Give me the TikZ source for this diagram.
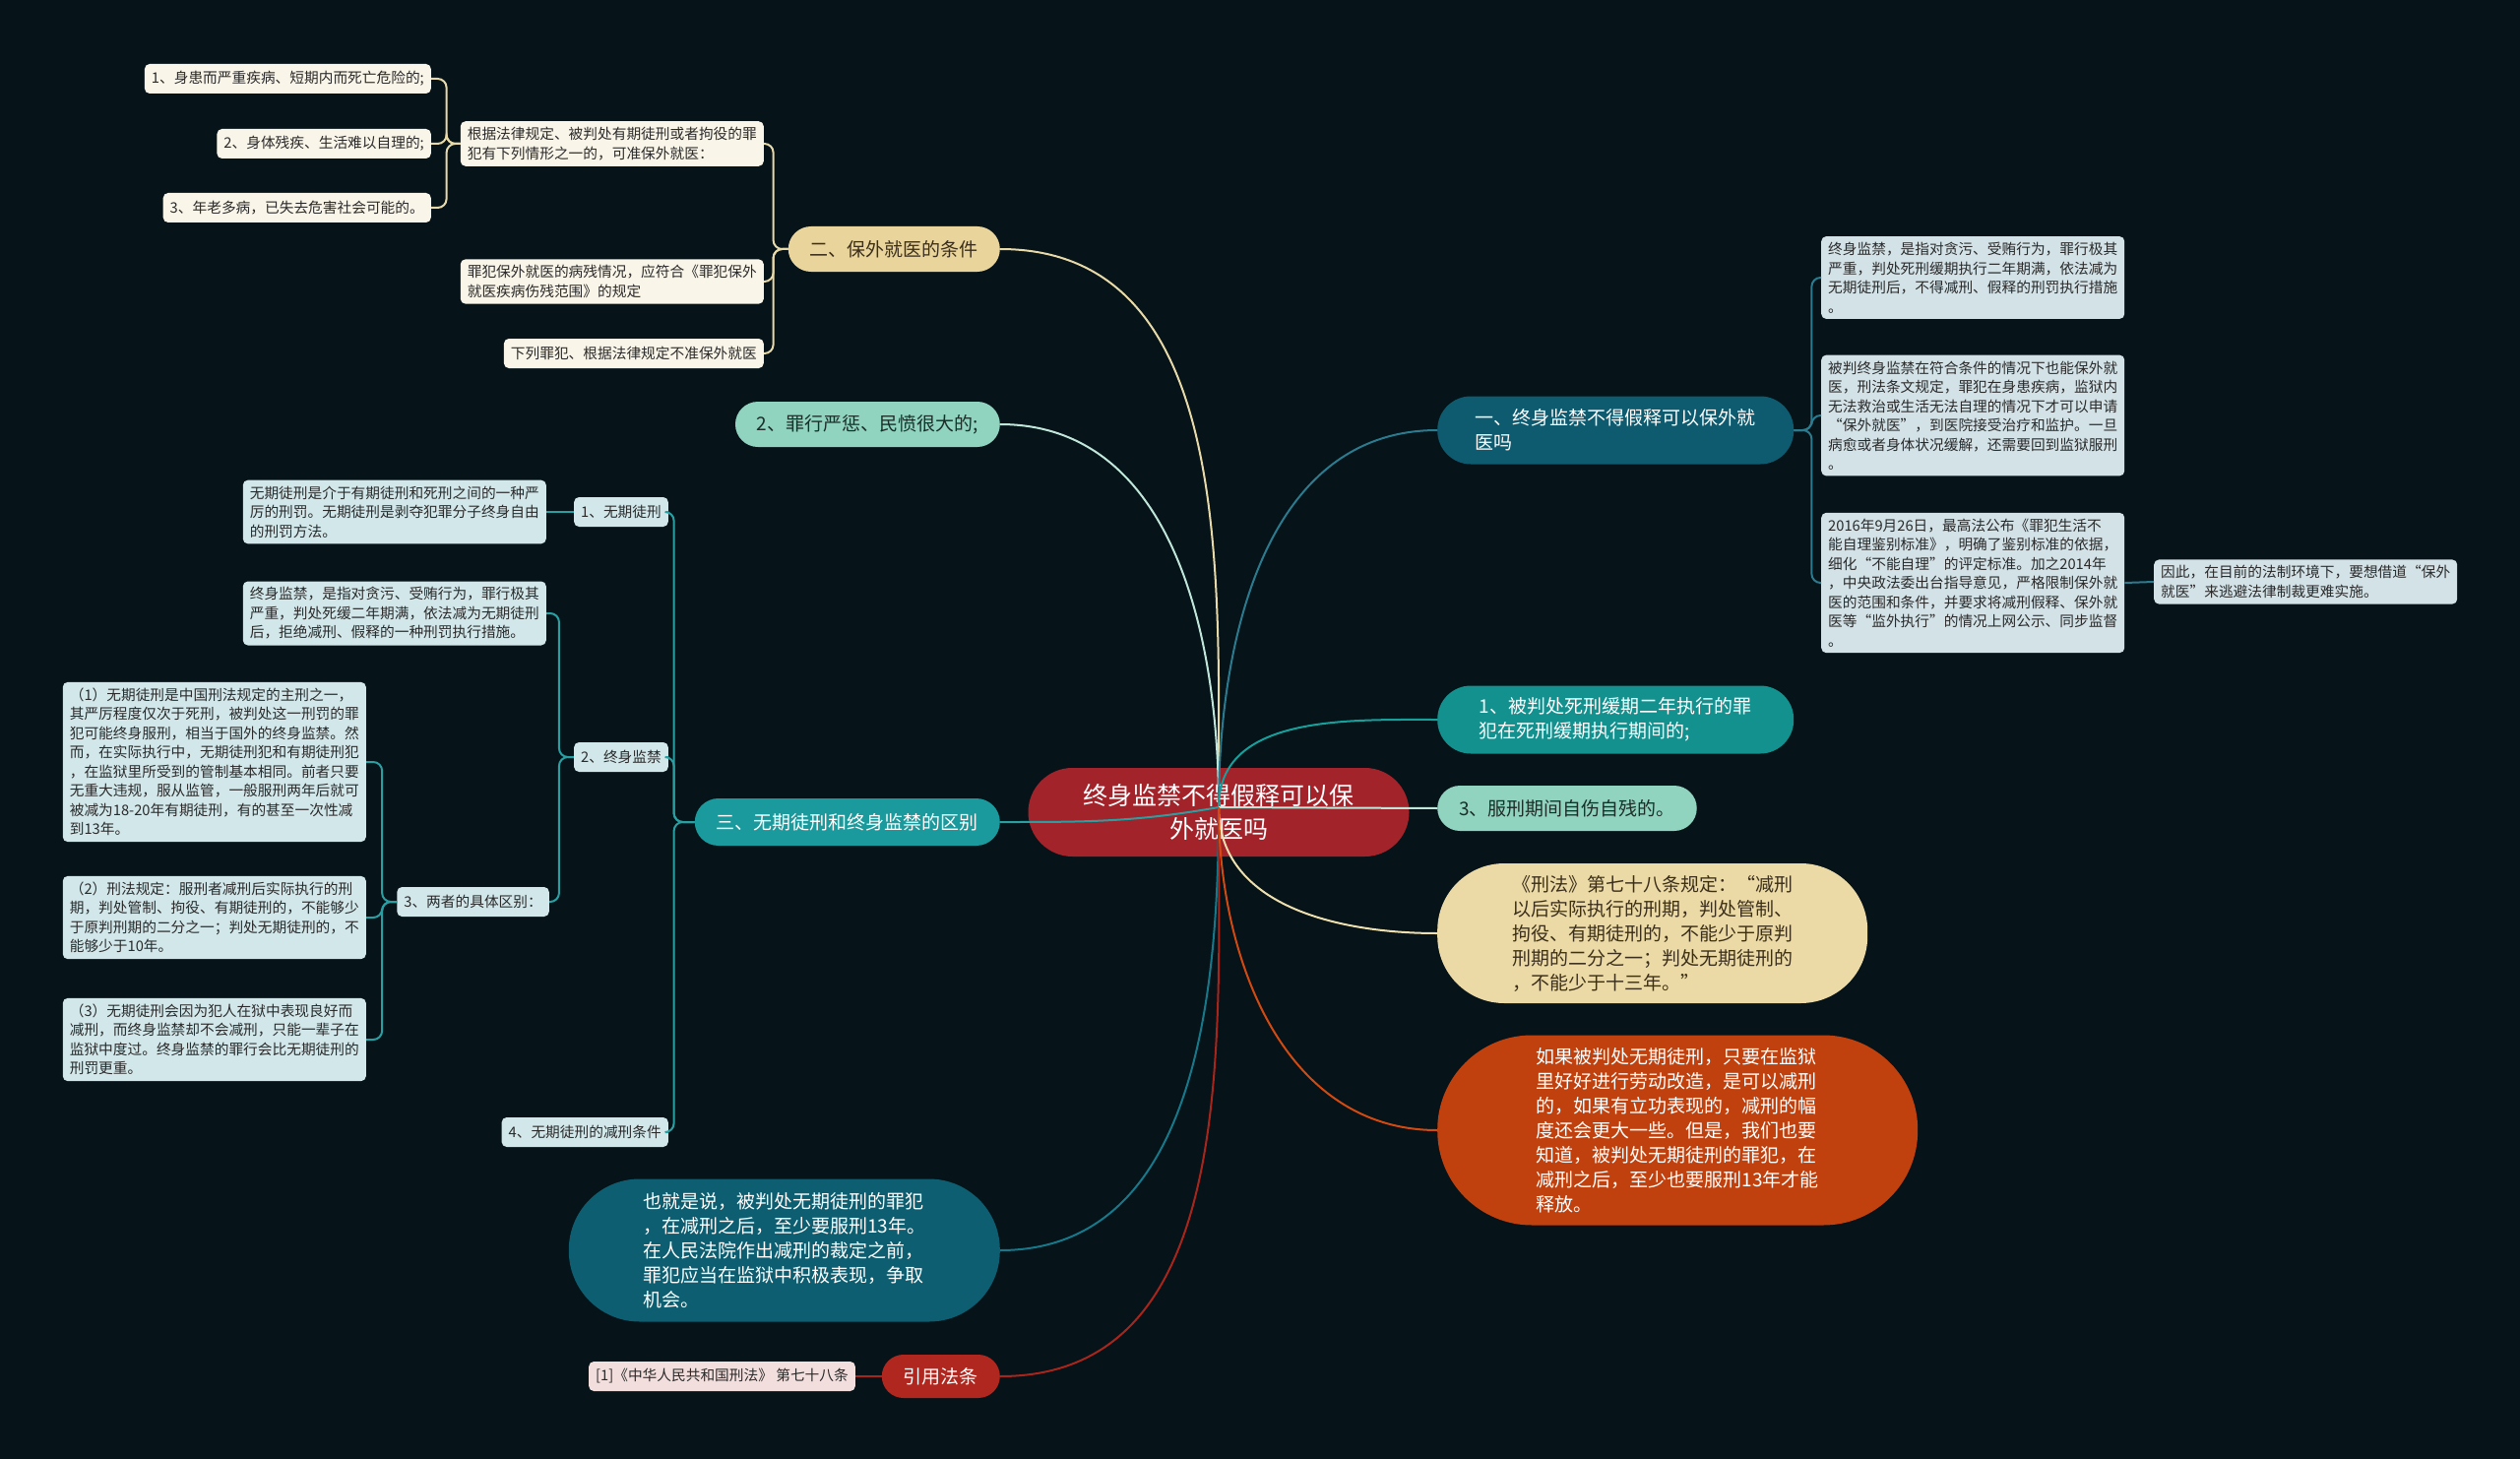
\documentclass[tikz,border=0pt]{standalone}
\usepackage{fontspec}
\setmainfont{Noto Sans CJK SC}
\usepackage{tikz}

\definecolor{bgcol}{HTML}{061319}
\definecolor{rootfill}{HTML}{A3232B}
\definecolor{tanfill}{HTML}{E9D49C}
\definecolor{tantext}{HTML}{3B2F1C}
\definecolor{creamfill}{HTML}{FAF5E9}
\definecolor{tanline}{HTML}{E8D9A8}
\definecolor{mintfill}{HTML}{90D3BF}
\definecolor{minttext}{HTML}{1C2E28}
\definecolor{mintline}{HTML}{BFE6D9}
\definecolor{tealfill}{HTML}{1A9A9C}
\definecolor{tealline}{HTML}{2A9FA2}
\definecolor{bluefill}{HTML}{D2E7EA}
\definecolor{deepfill}{HTML}{0D5E70}
\definecolor{deepline}{HTML}{17788A}
\definecolor{redfill}{HTML}{B0271F}
\definecolor{redline}{HTML}{A8251C}
\definecolor{pinkfill}{HTML}{F2DEDC}
\definecolor{navyfill}{HTML}{0E5A6E}
\definecolor{navyline}{HTML}{2B7A8E}
\definecolor{greyfill}{HTML}{D3E2E7}
\definecolor{greenfill}{HTML}{13918F}
\definecolor{greenline}{HTML}{16A09C}
\definecolor{beigefill}{HTML}{EBDAA5}
\definecolor{beigeline}{HTML}{EEDFAE}
\definecolor{orangefill}{HTML}{C0410E}
\definecolor{orangeline}{HTML}{D14A12}
\definecolor{leaftext}{HTML}{2A2A2A}

\begin{document}
\begin{tikzpicture}[x=1pt, y=1pt,
  leaf/.style={rectangle, rounded corners=5, align=left, inner xsep=7, inner ysep=6, minimum height=30, text=leaftext, font=\fontsize{14.7}{19.5}\selectfont},
  topic/.style={rectangle, align=left, inner xsep=22, inner ysep=6, font=\fontsize{19}{25}\selectfont},
  link/.style={line width=2, rounded corners=9},
]
\useasboundingbox (0,0) rectangle (2560,-1482);
\fill[bgcol] (0,0) rectangle (2560,-1482);

% root
\node[rectangle, fill=rootfill, text=white, rounded corners=45, minimum width=387, minimum height=90, align=center, font=\fontsize{25}{34}\selectfont] (root) at (1238,-825) {终身监禁不得假释可以保\\外就医吗};
\coordinate (hub) at (1238,-820);

% left: conditions
\node[topic, fill=tanfill, text=tantext, rounded corners=23, minimum height=46, anchor=east] (cond) at (1016,-253) {二、保外就医的条件};
\node[leaf, fill=creamfill, anchor=east] (law) at (776,-146) {根据法律规定、被判处有期徒刑或者拘役的罪\\犯有下列情形之一的，可准保外就医：};
\node[leaf, fill=creamfill, anchor=east] (ill) at (438,-80) {1、身患而严重疾病、短期内而死亡危险的;};
\node[leaf, fill=creamfill, anchor=east] (disab) at (438,-146) {2、身体残疾、生活难以自理的;};
\node[leaf, fill=creamfill, anchor=east] (old) at (438,-211) {3、年老多病，已失去危害社会可能的。};
\node[leaf, fill=creamfill, anchor=east] (range) at (776,-286) {罪犯保外就医的病残情况，应符合《罪犯保外\\就医疾病伤残范围》的规定};
\node[leaf, fill=creamfill, anchor=east] (deny) at (776,-359) {下列罪犯、根据法律规定不准保外就医};

\node[topic, fill=mintfill, text=minttext, rounded corners=23, minimum height=46, anchor=east] (crime) at (1016,-431) {2、罪行严惩、民愤很大的;};

% left: difference
\node[topic, fill=tealfill, text=white, rounded corners=24, minimum height=48, anchor=east] (diff) at (1016,-835) {三、无期徒刑和终身监禁的区别};
\node[leaf, fill=bluefill, anchor=east] (life) at (679,-520) {1、无期徒刑};
\node[leaf, fill=bluefill, anchor=east] (lifetxt) at (555,-520) {无期徒刑是介于有期徒刑和死刑之间的一种严\\厉的刑罚。无期徒刑是剥夺犯罪分子终身自由\\的刑罚方法。};
\node[leaf, fill=bluefill, anchor=east] (whole) at (679,-769) {2、终身监禁};
\node[leaf, fill=bluefill, anchor=east] (wholetxt) at (555,-623) {终身监禁，是指对贪污、受贿行为，罪行极其\\严重，判处死缓二年期满，依法减为无期徒刑\\后，拒绝减刑、假释的一种刑罚执行措施。};
\node[leaf, fill=bluefill, anchor=east] (both) at (558,-916) {3、两者的具体区别：};
\node[leaf, fill=bluefill, anchor=east] (pt1) at (372,-774) {（1）无期徒刑是中国刑法规定的主刑之一，\\其严厉程度仅次于死刑，被判处这一刑罚的罪\\犯可能终身服刑，相当于国外的终身监禁。然\\而，在实际执行中，无期徒刑犯和有期徒刑犯\\，在监狱里所受到的管制基本相同。前者只要\\无重大违规，服从监管，一般服刑两年后就可\\被减为18-20年有期徒刑，有的甚至一次性减\\到13年。};
\node[leaf, fill=bluefill, anchor=east] (pt2) at (372,-932) {（2）刑法规定：服刑者减刑后实际执行的刑\\期，判处管制、拘役、有期徒刑的，不能够少\\于原判刑期的二分之一；判处无期徒刑的，不\\能够少于10年。};
\node[leaf, fill=bluefill, anchor=east] (pt3) at (372,-1056) {（3）无期徒刑会因为犯人在狱中表现良好而\\减刑，而终身监禁却不会减刑，只能一辈子在\\监狱中度过。终身监禁的罪行会比无期徒刑的\\刑罚更重。};
\node[leaf, fill=bluefill, anchor=east] (cut) at (679,-1150) {4、无期徒刑的减刑条件};

\node[topic, fill=deepfill, text=white, rounded corners=72, minimum width=438, minimum height=145, anchor=east] (least) at (1016,-1270) {也就是说，被判处无期徒刑的罪犯\\，在减刑之后，至少要服刑13年。\\在人民法院作出减刑的裁定之前，\\罪犯应当在监狱中积极表现，争取\\机会。};

\node[topic, fill=redfill, text=white, rounded corners=22, minimum height=44, anchor=east] (cite) at (1016,-1398) {引用法条};
\node[leaf, fill=pinkfill, anchor=east] (ref) at (869,-1398) {[1]《中华人民共和国刑法》 第七十八条};

% right side
\node[topic, fill=navyfill, text=white, rounded corners=34, minimum width=362, minimum height=69, anchor=west] (parole) at (1460,-437) {一、终身监禁不得假释可以保外就\\医吗};
\node[leaf, fill=greyfill, anchor=west] (def) at (1850,-282) {终身监禁，是指对贪污、受贿行为，罪行极其\\严重，判处死刑缓期执行二年期满，依法减为\\无期徒刑后，不得减刑、假释的刑罚执行措施\\。};
\node[leaf, fill=greyfill, anchor=west] (can) at (1850,-422) {被判终身监禁在符合条件的情况下也能保外就\\医，刑法条文规定，罪犯在身患疾病，监狱内\\无法救治或生活无法自理的情况下才可以申请\\“保外就医”，到医院接受治疗和监护。一旦\\病愈或者身体状况缓解，还需要回到监狱服刑\\。};
\node[leaf, fill=greyfill, anchor=west] (std) at (1850,-592) {2016年9月26日，最高法公布《罪犯生活不\\能自理鉴别标准》，明确了鉴别标准的依据，\\细化“不能自理”的评定标准。加之2014年\\，中央政法委出台指导意见，严格限制保外就\\医的范围和条件，并要求将减刑假释、保外就\\医等“监外执行”的情况上网公示、同步监督\\。};
\node[leaf, fill=greyfill, anchor=west] (hard) at (2188,-591) {因此，在目前的法制环境下，要想借道“保外\\就医”来逃避法律制裁更难实施。};

\node[topic, fill=greenfill, text=white, rounded corners=34, minimum width=362, minimum height=69, anchor=west] (delay) at (1460,-731) {1、被判处死刑缓期二年执行的罪\\犯在死刑缓期执行期间的;};
\node[topic, fill=mintfill, text=minttext, rounded corners=23, minimum height=46, anchor=west] (self) at (1460,-821) {3、服刑期间自伤自残的。};
\node[topic, fill=beigefill, text=tantext, rounded corners=68, minimum width=437, minimum height=142, anchor=west] (art) at (1460,-948) {《刑法》第七十八条规定：“减刑\\以后实际执行的刑期，判处管制、\\拘役、有期徒刑的，不能少于原判\\刑期的二分之一；判处无期徒刑的\\，不能少于十三年。”};
\node[topic, fill=orangefill, text=white, rounded corners=96, minimum width=488, minimum height=193, anchor=west] (reform) at (1460,-1148) {如果被判处无期徒刑，只要在监狱\\里好好进行劳动改造，是可以减刑\\的，如果有立功表现的，减刑的幅\\度还会更大一些。但是，我们也要\\知道，被判处无期徒刑的罪犯，在\\减刑之后，至少也要服刑13年才能\\释放。};

% links from root
\draw[link, draw=tanline] (hub) to[out=90, in=0] (cond.east);
\draw[link, draw=mintline] (hub) to[out=90, in=0] (crime.east);
\draw[link, draw=tealline] (hub) to[out=190, in=0] (diff.east);
\draw[link, draw=deepline] (hub) to[out=-90, in=0] (least.east);
\draw[link, draw=redline] (hub) to[out=-90, in=0] (cite.east);
\draw[link, draw=navyline] (hub) to[out=90, in=180] (parole.west);
\draw[link, draw=greenline] (hub) to[out=90, in=180] (delay.west);
\draw[link, draw=mintline] (hub) -- (self.west);
\draw[link, draw=beigeline] (hub) to[out=-90, in=180] (art.west);
\draw[link, draw=orangeline] (hub) to[out=-90, in=180] (reform.west);

% brackets
\draw[link, draw=tanline] (cond.west) -- ++(-15,0) |- (law.east);
\draw[link, draw=tanline] (cond.west) -- ++(-15,0) |- (range.east);
\draw[link, draw=tanline] (cond.west) -- ++(-15,0) |- (deny.east);
\draw[link, draw=tanline] (law.west) -- ++(-14,0) |- (ill.east);
\draw[link, draw=tanline] (law.west) -- ++(-14,0) |- (disab.east);
\draw[link, draw=tanline] (law.west) -- ++(-14,0) |- (old.east);

\draw[link, draw=tealline] (diff.west) -- ++(-21,0) |- (life.east);
\draw[link, draw=tealline] (diff.west) -- ++(-21,0) |- (whole.east);
\draw[link, draw=tealline] (diff.west) -- ++(-21,0) |- (cut.east);
\draw[link, draw=tealline] (life.west) -- (lifetxt.east);
\draw[link, draw=tealline] (whole.west) -- ++(-15,0) |- (wholetxt.east);
\draw[link, draw=tealline] (whole.west) -- ++(-15,0) |- (both.east);
\draw[link, draw=tealline] (both.west) -- ++(-15,0) |- (pt1.east);
\draw[link, draw=tealline] (both.west) -- ++(-15,0) |- (pt2.east);
\draw[link, draw=tealline] (both.west) -- ++(-15,0) |- (pt3.east);

\draw[link, draw=redline] (cite.west) -- (ref.east);

\draw[link, draw=navyline] (parole.east) -- ++(18,0) |- (def.west);
\draw[link, draw=navyline] (parole.east) -- ++(18,0) |- (can.west);
\draw[link, draw=navyline] (parole.east) -- ++(18,0) |- (std.west);
\draw[link, draw=navyline] (std.east) -- (hard.west);
\end{tikzpicture}
\end{document}
